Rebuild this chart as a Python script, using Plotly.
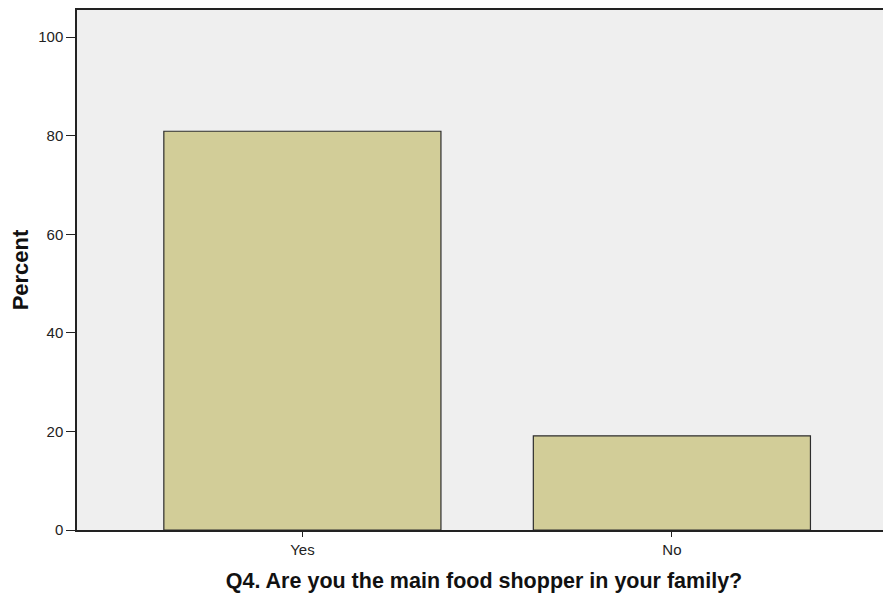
import plotly.graph_objects as go

# frequency table, Q4
categories = ["Yes", "No"]
percent = [80.9, 19.1]

fig = go.Figure()

fig.add_trace(go.Bar(
    x=categories,
    y=percent,
    width=0.75,
    marker={
        "color": "#D2CD98",
        "line": {"color": "#2E2E2E", "width": 1.2},
    },
    showlegend=False,
    hoverinfo="x+y",
))

# page body has an 8px margin, keep the figure inside the window so no scrollbars show
fig.update_layout(
    width=883,
    height=585,
    margin={"l": 69, "r": 0, "t": 2, "b": 63},
    paper_bgcolor="white",
    plot_bgcolor="#EFEFEF",
    font={"family": "Liberation Sans, Arial, sans-serif", "color": "#222222", "size": 15},
)

fig.update_xaxes(
    range=[-0.61, 1.593],
    showline=True, linecolor="#222222", linewidth=1.5, mirror=True,
    ticks="outside", ticklen=5, tickcolor="#222222",
    showgrid=False,
    title={"text": "<b>Q4. Are you the main food shopper in your family?</b>",
           "font": {"size": 21.5, "color": "#111111"}, "standoff": 17},
)
fig.update_yaxes(
    range=[0, 105.5],
    tickvals=[0, 20, 40, 60, 80, 100],
    showline=True, linecolor="#222222", linewidth=1.5,
    ticks="outside", ticklen=9, tickcolor="#222222",
    showgrid=False, zeroline=False,
    title={"text": "<b>Percent</b>", "font": {"size": 22, "color": "#111111"}, "standoff": 5},
)

fig.write_html("out.html")
